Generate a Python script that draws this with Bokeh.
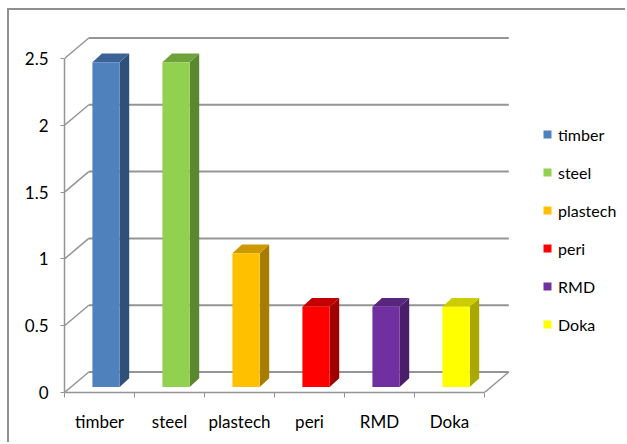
import numpy as np
from bokeh.plotting import figure
from bokeh.models import (ColumnDataSource, FixedTicker, Legend, LegendItem, Range1d)
from bokeh.embed import file_html
from bokeh.resources import INLINE

# ---- data ----
categories = ["timber", "steel", "plastech", "peri", "RMD", "Doka"]
values = [2.43, 2.43, 1.0, 0.6, 0.6, 0.6]
y_ticks = [0, 0.5, 1, 1.5, 2, 2.5]
front_colors = ["#4F81BD", "#92D050", "#FFC000", "#FF0000", "#7030A0", "#FFFF00"]
top_colors = ["#3B6396", "#70A23C", "#CC9A00", "#C40000", "#58267F", "#CCCC00"]
side_colors = ["#2F5079", "#5B8730", "#A67D00", "#A00000", "#4A1E6A", "#A8A800"]

# ---- geometry (3-D look) ----
PX_X, PX_Y = 70.0, 133.6          # pixels per category / per value unit
DX, DY = 24.3 / PX_X, 20.5 / PX_Y   # full depth offset in data units
D0 = 0.27                           # depth of the bar front
HALF_W = 0.195
BDX, BDY = 9.5 / PX_X, 8.8 / PX_Y   # bar depth offset
FONT = "Lato"
GRAY = "#959595"

n = len(categories)
vals = np.array(values, dtype=float)
xc = np.arange(n) + 0.5 + D0 * DX
left = xc - HALF_W
right = xc + HALF_W
base = np.full(n, D0 * DY)
top = vals + base

# page offset of the canvas (chart border drawn with CSS)
OFF_X, OFF_Y = 9, 10
W, H = 627 - OFF_X, 444 - OFF_Y
ML, MT, MB = 64 - OFF_X, 0, 52
p = figure(width=W, height=H, output_backend="svg", toolbar_location=None,
           x_range=Range1d(0, (W - ML) / PX_X),
           y_range=Range1d(0, (H - MT - MB) / PX_Y),
           min_border_left=ML, min_border_right=0, min_border_top=MT,
           min_border_bottom=MB)
p.styles = {"margin-left": "7px", "margin-top": "8px",
            "border-left": "2px solid #8f8f8f", "border-top": "2px solid #8f8f8f"}
p.outline_line_color = None
p.xgrid.visible = False
p.ygrid.visible = False
p.background_fill_color = "white"
p.border_fill_color = "white"

# back wall gridlines, left wall diagonals, floor right edge
yt = np.array(y_ticks, dtype=float)
p.segment(x0=np.full(len(yt), DX), y0=yt + DY, x1=np.full(len(yt), n + DX), y1=yt + DY,
          line_color=GRAY, line_width=2)
p.segment(x0=np.zeros(len(yt)), y0=yt, x1=np.full(len(yt), DX), y1=yt + DY,
          line_color=GRAY, line_width=1.5)
p.segment(x0=[n], y0=[0], x1=[n + DX], y1=[DY], line_color=GRAY, line_width=1.5)

# bars: side faces, top faces, front faces
side_xs = [[r, r + BDX, r + BDX, r] for r in right]
side_ys = [[b, b + BDY, t + BDY, t] for b, t in zip(base, top)]
p.patches(side_xs, side_ys, fill_color=side_colors, line_color=None)
top_xs = [[l, l + BDX, r + BDX, r] for l, r in zip(left, right)]
top_ys = [[t, t + BDY, t + BDY, t] for t in top]
p.patches(top_xs, top_ys, fill_color=top_colors, line_color=None)

src = ColumnDataSource(dict(left=left, right=right, top=top, bottom=base,
                            color=front_colors, cat=categories))
front = p.quad(left="left", right="right", top="top", bottom="bottom",
               fill_color="color", line_color=None, source=src)

# axes
p.yaxis.ticker = FixedTicker(ticks=y_ticks)
p.yaxis.major_label_overrides = {t: f"{t:g}" for t in y_ticks}
p.yaxis.bounds = (0, y_ticks[-1])
p.yaxis.axis_line_color = GRAY
p.yaxis.axis_line_width = 1.5
p.yaxis.major_tick_line_color = GRAY
p.yaxis.major_tick_in = 0
p.yaxis.major_tick_out = 4
p.yaxis.minor_tick_line_color = None
p.yaxis.major_label_standoff = 12
p.yaxis.major_label_text_font = FONT
p.yaxis.major_label_text_font_size = "17px"
p.yaxis.major_label_text_color = "black"

centers = [i + 0.5 for i in range(n)]
p.xaxis.ticker = FixedTicker(ticks=centers, minor_ticks=list(range(n + 1)))
p.xaxis.major_label_overrides = {c: name for c, name in zip(centers, categories)}
p.xaxis.bounds = (0, n)
p.xaxis.axis_line_color = GRAY
p.xaxis.axis_line_width = 1.5
p.xaxis.major_tick_line_color = None
p.xaxis.major_tick_out = 0
p.xaxis.major_tick_in = 0
p.xaxis.minor_tick_line_color = GRAY
p.xaxis.minor_tick_in = 0
p.xaxis.minor_tick_out = 5
p.xaxis.major_label_standoff = 13
p.xaxis.major_label_text_font = FONT
p.xaxis.major_label_text_font_size = "17px"
p.xaxis.major_label_text_color = "black"

# legend
items = [LegendItem(label=c, renderers=[front], index=i) for i, c in enumerate(categories)]
legend = Legend(items=items, location=(478, 58), orientation="vertical",
                glyph_width=10, glyph_height=10, label_height=20, spacing=18,
                label_standoff=6, padding=0, margin=0,
                border_line_color=None, background_fill_alpha=0,
                label_text_font=FONT, label_text_font_size="16px",
                label_text_color="black")
p.add_layout(legend)

open("out.html", "w").write(file_html(p, INLINE))
